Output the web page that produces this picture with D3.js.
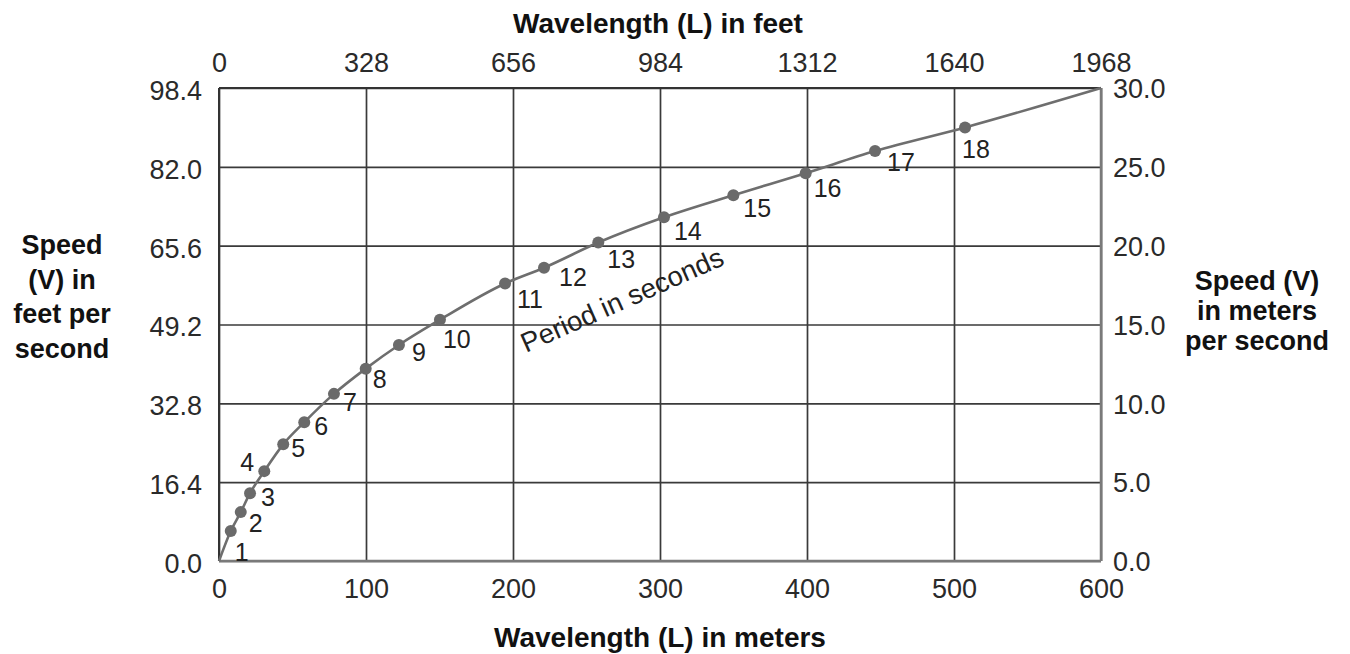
<!DOCTYPE html>
<html>
<head>
<meta charset="utf-8">
<script src="https://cdn.jsdelivr.net/npm/d3@7"></script>
<style>
  body { margin: 0; background: #fff; }
  text { font-family: "Liberation Sans", Arial, Helvetica, sans-serif; fill: #222; }
  .tick text { font-size: 27px; fill: #2a2a2a; }
  .title { font-size: 27px; font-weight: bold; fill: #111; }
  .plabel { font-size: 25px; fill: #222; }
</style>
</head>
<body>
<script>
// data
const periods = [1, 2, 3, 4, 5, 6, 7, 8, 9, 10, 11, 12, 13, 14, 15, 16, 17, 18];
const wavelengthM = [8.0, 14.8, 21.1, 30.8, 43.7, 58.0, 78.2, 99.8, 122.4, 150.3, 194.6, 221.1, 258.0, 302.7, 349.9, 399.1, 446.3, 507.5];
const speedMs = [1.9, 3.1, 4.3, 5.7, 7.4, 8.8, 10.6, 12.2, 13.7, 15.3, 17.6, 18.6, 20.2, 21.8, 23.2, 24.6, 26.0, 27.5];
const curveStart = [0, 0];
const curveEnd = [600, 30];
const ticksMeters = [0, 100, 200, 300, 400, 500, 600];
const ticksFeet = [0, 328, 656, 984, 1312, 1640, 1968];
const ticksFps = [0, 16.4, 32.8, 49.2, 65.6, 82.0, 98.4];
const ticksMps = [0, 5, 10, 15, 20, 25, 30];

const W = 1350, H = 654;
const plotLeft = 219, plotRight = 1101, plotTop = 88, plotBottom = 561;
const innerW = plotRight - plotLeft, innerH = plotBottom - plotTop;

const svg = d3.select('body').append('svg')
    .attr('width', W)
    .attr('height', H);

const g = svg.append('g')
    .attr('transform', `translate(${plotLeft},${plotTop})`);

const xM = d3.scaleLinear().domain([0, 600]).range([0, innerW]);
const xFt = d3.scaleLinear().domain([0, 1968]).range([0, innerW]);
const yMs = d3.scaleLinear().domain([0, 30]).range([innerH, 0]);
const yFps = d3.scaleLinear().domain([0, 98.4]).range([innerH, 0]);

// bottom axis doubles as vertical grid
const xAxisG = g.append('g')
    .attr('transform', `translate(0,${innerH})`)
    .call(d3.axisBottom(xM).tickValues(ticksMeters).tickSize(-innerH).tickPadding(18).tickFormat(d3.format('d')));
// left axis doubles as horizontal grid
const yAxisG = g.append('g')
    .call(d3.axisLeft(yFps).tickValues(ticksFps).tickSize(-innerW).tickPadding(17).tickFormat(d3.format('.1f')));
const topAxisG = g.append('g')
    .call(d3.axisTop(xFt).tickValues(ticksFeet).tickSize(0).tickPadding(16).tickFormat(d3.format('d')));
const rightAxisG = g.append('g')
    .attr('transform', `translate(${innerW},0)`)
    .call(d3.axisRight(yMs).tickValues(ticksMps).tickSize(0).tickPadding(12).tickFormat(d3.format('.1f')));

[xAxisG, yAxisG, topAxisG, rightAxisG].forEach(a => {
    a.select('.domain').remove();
    a.attr('font-family', null).attr('font-size', null);
});
xAxisG.selectAll('.tick line').attr('stroke', '#3a3a3a').attr('stroke-width', 1.7);
yAxisG.selectAll('.tick line').attr('stroke', '#3a3a3a').attr('stroke-width', 1.7);
yAxisG.selectAll('.tick text').attr('dy', '0.42em');
rightAxisG.selectAll('.tick text').attr('dy', '0.36em');

// frame
g.append('line').attr('x1', 0).attr('y1', 0).attr('x2', innerW).attr('y2', 0)
    .attr('stroke', '#333').attr('stroke-width', 2);
g.append('line').attr('x1', 0).attr('y1', 0).attr('x2', 0).attr('y2', innerH)
    .attr('stroke', '#333').attr('stroke-width', 2);
g.append('line').attr('x1', innerW).attr('y1', 0).attr('x2', innerW).attr('y2', innerH)
    .attr('stroke', '#7a7a7a').attr('stroke-width', 2.5);
g.append('line').attr('x1', 0).attr('y1', innerH).attr('x2', innerW).attr('y2', innerH)
    .attr('stroke', '#7a7a7a').attr('stroke-width', 2.5);

// curve
const pts = periods.map((p, i) => ({ T: p, L: wavelengthM[i], V: speedMs[i] }));
const linePts = [curveStart].concat(pts.map(d => [d.L, d.V])).concat([curveEnd]);
const line = d3.line()
    .x(d => xM(d[0]))
    .y(d => yMs(d[1]))
    .curve(d3.curveMonotoneX);
g.append('path')
    .datum(linePts)
    .attr('d', line)
    .attr('fill', 'none')
    .attr('stroke', '#6e6e6e')
    .attr('stroke-width', 2.6);

g.selectAll('.dot')
    .data(pts)
    .enter().append('circle')
    .attr('class', 'dot')
    .attr('cx', d => xM(d.L))
    .attr('cy', d => yMs(d.V))
    .attr('r', 6)
    .attr('fill', '#6a6a6a');

// label offsets (px) from each point: [dx, dy, anchor]
const labelOffsets = [
    [4, 30, 'start'], [8, 20, 'start'], [11, 13, 'start'], [-10, 0, 'end'],
    [8, 13, 'start'], [10, 13, 'start'], [9, 17, 'start'], [7, 19, 'start'],
    [13, 16, 'start'], [3, 28, 'start'], [12, 24, 'start'], [15, 18, 'start'],
    [9, 25, 'start'], [10, 23, 'start'], [10, 22, 'start'], [8, 24, 'start'],
    [12, 20, 'start'], [-3, 31, 'start']
];
g.selectAll('.plabel')
    .data(pts)
    .enter().append('text')
    .attr('class', 'plabel')
    .attr('x', (d, i) => xM(d.L) + labelOffsets[i][0])
    .attr('y', (d, i) => yMs(d.V) + labelOffsets[i][1])
    .attr('text-anchor', (d, i) => labelOffsets[i][2])
    .text(d => d.T);

g.append('text')
    .attr('class', 'plabel')
    .style('font-size', '27.5px')
    .attr('transform', `translate(${526 - plotLeft},${353 - plotTop}) rotate(-24)`)
    .text('Period in seconds');

// titles
svg.append('text').attr('class', 'title')
    .style('font-size', '28px')
    .attr('x', 658).attr('y', 33)
    .attr('text-anchor', 'middle')
    .text('Wavelength (L) in feet');
svg.append('text').attr('class', 'title')
    .style('font-size', '28px')
    .attr('x', 660).attr('y', 647)
    .attr('text-anchor', 'middle')
    .text('Wavelength (L) in meters');

const leftTitle = ['Speed', '(V) in', 'feet per', 'second'];
svg.append('g').selectAll('text')
    .data(leftTitle)
    .enter().append('text')
    .attr('class', 'title')
    .attr('x', 62)
    .attr('y', (d, i) => 254 + i * 34.7)
    .attr('text-anchor', 'middle')
    .text(d => d);

const rightTitle = ['Speed (V)', 'in meters', 'per second'];
svg.append('g').selectAll('text')
    .data(rightTitle)
    .enter().append('text')
    .attr('class', 'title')
    .attr('x', 1257)
    .attr('y', (d, i) => 290 + i * 30)
    .attr('text-anchor', 'middle')
    .text(d => d);
</script>
</body>
</html>
